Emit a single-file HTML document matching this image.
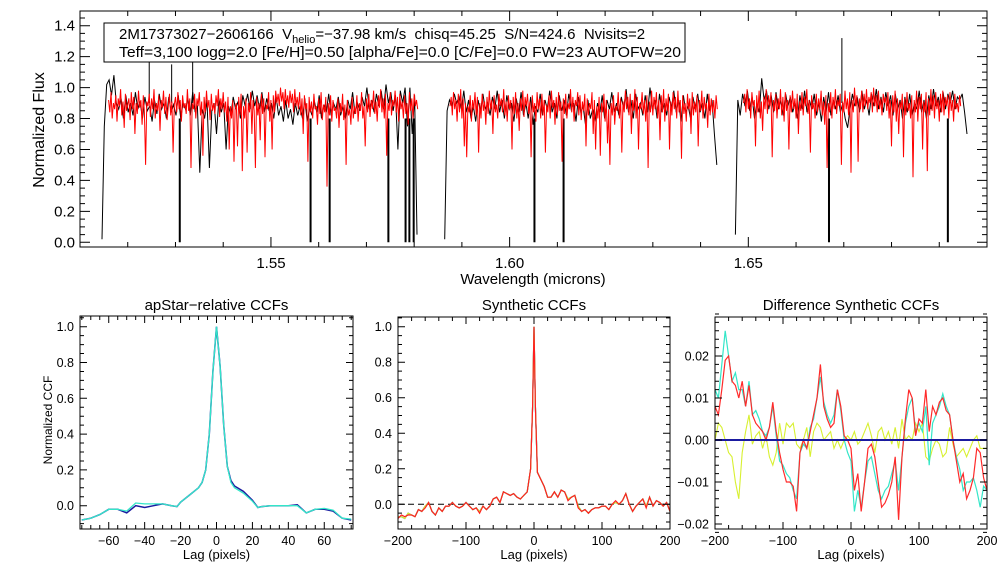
<!DOCTYPE html>
<html><head><meta charset="utf-8"><style>
html,body{margin:0;padding:0;background:#fff;}
svg{display:block;font-family:"Liberation Sans",Arial,sans-serif;}
</style></head><body>
<svg id="chart" width="1008" height="576" viewBox="0 0 1008 576" xmlns="http://www.w3.org/2000/svg"></svg>
<script>
// ---------- Spectrum data ----------
const redStep = 0.00025;
const redChip1Start = 1.5160;
const redChip1 = [0.92,0.84,0.97,0.80,0.90,0.86,0.95,0.78,0.93,0.88,
0.99,0.82,0.91,0.74,0.96,0.85,0.89,0.93,0.79,0.97,
0.86,0.94,0.70,0.90,0.83,0.98,0.87,0.92,0.76,0.95,
0.84,0.50,0.91,0.88,0.96,0.81,0.93,0.86,0.99,0.80,
0.90,0.85,0.95,0.72,0.92,0.87,0.98,0.83,0.94,0.79,
0.88,0.96,0.82,0.91,0.58,0.89,0.94,0.84,0.97,0.86,
0.92,0.78,0.95,0.87,0.90,0.83,0.99,0.85,0.93,0.48,
0.90,0.86,0.96,0.80,0.93,0.88,0.97,0.82,0.91,0.56,
0.94,0.84,0.98,0.87,0.92,0.79,0.96,0.85,0.90,0.83,
0.95,0.88,0.99,0.81,0.93,0.86,0.97,0.84,0.91,0.78,
0.94,0.60,0.88,0.80,0.92,0.52,0.86,0.90,0.62,0.94,
0.82,0.96,0.46,0.88,0.80,0.93,0.58,0.90,0.84,0.97,
0.70,0.92,0.85,0.48,0.94,0.82,0.90,0.66,0.96,0.83,
0.93,0.55,0.89,0.86,0.97,0.78,0.92,0.60,0.95,0.84,
0.98,0.90,0.96,0.88,1.00,0.91,0.97,0.86,0.99,0.89,
0.95,0.87,0.98,0.90,0.96,0.84,0.99,0.88,0.94,0.86,
0.97,0.82,0.93,0.70,0.95,0.86,0.90,0.52,0.94,0.84,
0.91,0.80,0.96,0.86,0.88,0.76,0.93,0.83,0.97,0.79,
0.89,0.84,0.94,0.36,0.90,0.82,0.95,0.78,0.92,0.85,
0.87,0.80,0.93,0.74,0.90,0.84,0.96,0.79,0.89,0.50,
0.92,0.82,0.86,0.76,0.94,0.80,0.88,0.83,0.95,0.78,
0.90,0.85,0.97,0.80,0.88,0.62,0.93,0.84,0.96,0.81,
0.92,0.86,0.98,0.83,0.91,0.78,0.95,0.87,0.99,0.84,
0.93,0.80,0.96,0.56,0.90,0.85,0.97,0.82,0.92,0.88,
0.98,0.84,0.94,0.78,0.96,0.86,0.91,0.80,0.95,0.83,
0.90,0.76,0.97,0.85,0.93,0.80,0.96,0.88,0.92,0.86];
const redChip2Start = 1.5875;
const redChip2 = [0.88,0.94,0.82,0.97,0.86,0.92,0.78,0.96,0.84,0.99,
0.80,0.93,0.62,0.90,0.55,0.88,0.84,0.95,0.78,0.92,
0.86,0.97,0.82,0.94,0.58,0.90,0.80,0.96,0.85,0.91,
0.76,0.94,0.83,0.98,0.86,0.92,0.70,0.95,0.84,0.89,
0.80,0.96,0.88,0.93,0.84,0.99,0.82,0.91,0.78,0.95,
0.86,0.92,0.60,0.94,0.83,0.97,0.80,0.90,0.72,0.93,
0.85,0.98,0.81,0.94,0.88,0.96,0.83,0.91,0.55,0.95,
0.84,0.90,0.78,0.97,0.86,0.93,0.80,0.96,0.82,0.92,
0.58,0.89,0.84,0.95,0.80,0.98,0.87,0.92,0.76,0.94,
0.82,0.97,0.85,0.91,0.52,0.93,0.83,0.96,0.80,0.90,
0.86,0.99,0.84,0.94,0.78,0.92,0.88,0.97,0.82,0.95,
0.79,0.91,0.85,0.96,0.62,0.93,0.82,0.90,0.86,0.97,
0.70,0.92,0.60,0.88,0.80,0.94,0.56,0.90,0.84,0.96,
0.78,0.92,0.64,0.86,0.50,0.90,0.82,0.95,0.76,0.88,
0.85,0.97,0.80,0.93,0.58,0.91,0.84,0.98,0.86,0.94,
0.82,0.96,0.70,0.92,0.85,0.99,0.80,0.94,0.60,0.90,
0.86,0.97,0.83,0.92,0.78,0.95,0.48,0.91,0.84,0.98,
0.82,0.94,0.86,0.97,0.80,0.92,0.66,0.95,0.84,0.99,
0.78,0.93,0.85,0.96,0.60,0.91,0.82,0.97,0.86,0.94,
0.80,0.98,0.84,0.92,0.54,0.95,0.83,0.90,0.78,0.96,
0.86,0.93,0.70,0.97,0.82,0.91,0.84,0.95,0.62,0.92,
0.85,0.98,0.80,0.94,0.86,0.90,0.74,0.96,0.82,0.93,
0.84,0.92,0.80,0.95,0.86];
const redChip3Start = 1.6490;
const redChip3 = [0.90,0.96,0.84,0.99,0.86,0.93,0.80,0.97,0.88,0.92,
0.62,0.95,0.84,0.98,0.80,0.91,0.72,0.94,0.86,0.99,
0.83,0.95,0.88,0.97,0.55,0.92,0.85,0.96,0.80,0.93,
0.86,0.99,0.82,0.94,0.78,0.97,0.85,0.92,0.60,0.95,
0.84,0.98,0.86,0.93,0.80,0.96,0.70,0.91,0.85,0.97,
0.82,0.94,0.88,0.99,0.83,0.92,0.58,0.95,0.86,0.90,
0.80,0.96,0.84,0.93,0.86,0.98,0.82,0.91,0.76,0.95,
0.48,0.90,0.84,0.97,0.80,0.94,0.86,0.99,0.83,0.92,
0.88,0.96,0.50,0.91,0.84,0.98,0.86,0.93,0.82,0.97,
0.45,0.92,0.84,1.00,0.88,0.95,0.52,0.93,0.86,0.98,
0.84,0.96,0.88,0.99,0.86,0.94,0.90,0.97,0.84,1.00,
0.88,0.95,0.84,0.98,0.86,0.93,0.82,0.96,0.90,0.94,
0.85,0.97,0.80,0.92,0.62,0.95,0.84,0.98,0.78,0.93,
0.70,0.91,0.86,0.96,0.55,0.93,0.82,0.97,0.85,0.90,
0.80,0.95,0.42,0.92,0.84,0.98,0.78,0.94,0.86,0.96,
0.60,0.91,0.84,0.97,0.46,0.93,0.82,0.99,0.85,0.95,
0.80,0.97,0.86,0.92,0.78,0.96,0.84,0.98,0.82,0.94,
0.88,0.95,0.80,0.97,0.85,0.92,0.78,0.96,0.86,0.90,
0.84,0.95,0.88];
const blackStep = 0.0005;
const blackChip1Start = 1.5146;
const blackChip1 = [0.02,0.75,1.02,1.05,0.95,1.08,0.90,0.86,0.93,0.80,
0.95,0.84,0.90,0.82,0.97,0.86,0.91,0.80,0.94,0.85,
0.88,0.78,0.92,0.83,0.96,0.86,0.90,0.80,0.94,0.84,
0.89,0.82,0.95,0.80,0.90,0.86,0.93,0.82,0.97,0.85,
0.88,0.45,0.86,0.80,0.92,0.48,0.85,0.90,0.70,0.93,
0.84,0.90,0.60,0.88,0.82,0.94,0.86,0.91,0.80,0.95,
0.88,0.96,0.86,0.98,0.88,0.95,0.86,0.97,0.84,0.93,
0.85,0.90,0.80,0.94,0.82,0.88,0.78,0.92,0.80,0.86,
0.76,0.90,0.82,0.88,0.80,0.93,0.78,0.87,0.82,0.91,
0.84,0.95,0.80,0.89,0.84,0.96,0.82,0.90,0.86,0.94,
0.82,0.88,0.80,0.92,0.86,0.97,0.83,0.90,0.85,0.94,
0.88,1.00,0.86,0.92,0.84,0.96,0.88,0.98,0.86,1.02,
0.90,0.97,0.85,0.95,0.60,0.98,0.90,1.00,0.75,1.00,
0.70,0.95,0.05];
const blackChip2Start = 1.5864;
const blackChip2 = [0.02,0.85,0.92,0.88,0.96,0.90,0.94,0.86,0.98,0.84,
0.92,0.80,0.88,0.78,0.92,0.84,0.96,0.86,0.90,0.82,
0.94,0.86,0.98,0.84,0.92,0.80,0.95,0.86,0.90,0.78,
0.93,0.84,0.97,0.82,0.90,0.80,0.94,0.76,0.88,0.84,
0.96,0.82,0.92,0.86,0.98,0.84,0.90,0.80,0.95,0.85,
0.92,0.82,0.96,0.86,0.90,0.78,0.94,0.84,0.88,0.76,
0.92,0.80,0.86,0.78,0.90,0.84,0.95,0.80,0.92,0.86,
0.97,0.84,0.90,0.82,0.94,0.86,0.99,0.84,0.92,0.80,
0.96,0.86,0.90,0.82,0.95,0.84,1.00,0.86,0.92,0.80,
0.96,0.84,0.90,0.82,0.94,0.86,0.98,0.84,0.92,0.78,
0.95,0.84,0.88,0.80,0.94,0.86,0.96,0.84,0.90,0.80,
0.96,0.85,0.92,0.70,0.50];
const blackChip3Start = 1.6473;
const blackChip3 = [0.05,0.92,0.82,0.96,0.88,0.98,0.85,0.94,0.80,0.90,
0.84,1.06,0.92,0.98,0.86,0.95,0.84,0.97,0.86,0.92,
0.82,0.96,0.88,0.94,0.84,0.90,0.80,0.95,0.86,0.98,
0.84,0.92,0.86,0.96,0.82,0.90,0.78,0.94,0.84,0.97,
0.82,0.92,0.86,0.95,0.84,0.90,0.80,0.74,0.86,0.96,
0.88,0.94,0.84,0.98,0.86,0.92,0.82,0.96,0.88,0.99,
0.86,0.94,0.84,0.97,0.88,0.95,0.82,0.96,0.86,0.92,
0.80,0.94,0.84,0.96,0.82,0.90,0.86,0.98,0.84,0.92,
0.80,0.95,0.86,0.99,0.88,0.94,0.84,0.97,0.86,0.96,
0.90,0.98,0.86,0.94,0.92,0.96,0.84,0.70];
const deepLineWaves = [1.5309,1.5583,1.5623,1.5746,1.5782,1.5790,1.5799,1.6052,1.6113,1.6669,1.6918];
const spikeWaves = [1.5245,1.5292,1.5336,1.6696];
const spikeFlux = [1.25,1.15,1.25,1.32];
const specXTicks = [1.55,1.60,1.65];
const specYTicks = [0.0,0.2,0.4,0.6,0.8,1.0,1.2,1.4];

// ---------- CCF data ----------
const lag1 = [-75,-70,-65,-60,-55,-50,-45,-40,-35,-30,-25,-22,-20,-15,-10,-8,-6,-4,-2,0,2,4,6,8,10,15,20,23,25,30,35,40,45,50,55,60,65,70,75];
const ccfBlue1 = [-0.08,-0.07,-0.05,-0.02,-0.02,-0.04,0.0,-0.01,0.0,0.01,0.0,-0.005,0.02,0.06,0.10,0.13,0.20,0.40,0.75,1.0,0.78,0.45,0.22,0.14,0.11,0.08,0.03,-0.01,-0.005,0.0,0.0,0.0,0.005,-0.04,-0.02,-0.02,-0.03,-0.07,-0.08];
const ccfCyan1 = [-0.08,-0.07,-0.05,-0.02,-0.02,-0.03,0.015,0.01,0.01,0.01,0.0,-0.005,0.02,0.06,0.10,0.13,0.20,0.40,0.75,1.0,0.78,0.45,0.22,0.13,0.10,0.07,0.025,-0.01,-0.005,0.0,0.0,0.0,0.0,-0.04,-0.02,-0.015,-0.025,-0.07,-0.075];
const p1XTicks = [-60,-40,-20,0,20,40,60];
const p1YTicks = [0.0,0.2,0.4,0.6,0.8,1.0];

const lag2 = [-200,-195,-190,-185,-180,-175,-170,-165,-160,-155,-150,-145,-140,-135,-130,-125,-120,-115,-110,-105,-100,-95,-90,-85,-80,-75,-70,-65,-60,-55,-50,-45,-40,-35,-30,-25,-20,-15,-10,-5,-2,0,2,5,10,15,20,25,30,35,40,45,50,55,60,65,70,75,80,85,90,95,100,105,110,115,120,125,130,135,140,145,150,155,160,165,170,175,180,185,190,195,200];
const ccfSynth = [-0.07,-0.07,-0.08,-0.05,-0.06,-0.07,-0.03,-0.04,-0.01,0.01,-0.04,-0.06,-0.02,-0.04,-0.01,-0.01,0.01,-0.01,-0.02,-0.01,0.01,-0.01,-0.03,-0.02,-0.04,-0.01,-0.03,-0.01,0.03,0.04,0.01,0.07,0.06,0.05,0.06,0.04,0.03,0.05,0.07,0.20,0.55,1.0,0.55,0.18,0.14,0.10,0.04,0.04,0.07,0.04,0.08,0.07,0.03,0.04,0.05,-0.01,-0.04,-0.03,-0.05,-0.03,-0.02,-0.02,-0.01,-0.01,-0.03,0.0,0.01,0.0,0.02,0.06,0.0,-0.04,-0.01,0.01,0.03,-0.01,0.04,-0.01,0.02,0.01,-0.01,0.01,-0.04];
const ccfSynthRed = [-0.08,-0.06,-0.07,-0.06,-0.06,-0.07,-0.03,-0.04,-0.02,0.01,-0.04,-0.06,-0.02,-0.04,-0.01,-0.01,0.01,-0.01,-0.02,-0.01,0.01,-0.01,-0.03,-0.02,-0.05,-0.01,-0.03,-0.01,0.03,0.04,0.01,0.07,0.06,0.05,0.06,0.04,0.03,0.05,0.07,0.20,0.55,1.0,0.55,0.18,0.14,0.10,0.04,0.04,0.07,0.04,0.08,0.07,0.02,0.04,0.05,-0.02,-0.04,-0.03,-0.05,-0.03,-0.02,-0.02,-0.01,-0.01,-0.03,0.0,0.02,0.0,0.02,0.06,0.0,-0.04,-0.01,0.01,0.03,-0.02,0.04,-0.01,0.02,0.01,-0.01,0.01,-0.04];
const p2XTicks = [-200,-100,0,100,200];
const p2YTicks = [0.0,0.2,0.4,0.6,0.8,1.0];

const lag3 = [-200,-195,-190,-185,-180,-175,-170,-165,-160,-155,-150,-145,-140,-135,-130,-125,-120,-115,-110,-105,-100,-95,-90,-85,-80,-75,-70,-65,-60,-55,-50,-45,-40,-35,-30,-25,-20,-15,-10,-5,0,5,10,15,20,25,30,35,40,45,50,55,60,65,70,75,80,85,90,95,100,105,110,115,120,125,130,135,140,145,150,155,160,165,170,175,180,185,190,195,200];
const diffRed = [0.008,0.006,0.012,0.019,0.020,0.014,0.013,0.010,0.014,0.008,0.013,0.006,0.004,0.003,0.002,0.0,0.003,0.009,0.002,-0.003,-0.007,-0.010,-0.010,-0.011,-0.017,-0.003,0.0,-0.002,0.002,0.006,0.010,0.018,0.008,0.005,0.003,0.004,0.012,0.008,0.001,0.0,-0.002,-0.012,-0.008,-0.017,-0.010,-0.002,-0.001,-0.004,-0.010,-0.016,-0.015,-0.013,-0.010,-0.004,-0.019,-0.004,0.005,0.012,0.010,0.001,0.005,0.004,0.012,0.002,0.008,0.006,0.009,0.010,0.007,0.006,0.0,-0.005,-0.010,-0.008,-0.014,-0.012,-0.009,-0.002,-0.003,-0.009,-0.012];
const diffCyan = [0.012,0.010,0.018,0.026,0.020,0.014,0.016,0.012,0.012,0.008,0.014,0.006,0.007,0.005,0.002,0.001,0.003,0.008,0.001,-0.005,-0.006,-0.008,-0.009,-0.012,-0.014,-0.003,-0.001,-0.002,0.003,0.005,0.010,0.015,0.009,0.006,0.004,0.006,0.012,0.007,0.0,-0.003,-0.005,-0.017,-0.012,-0.016,-0.010,-0.005,-0.004,-0.008,-0.012,-0.014,-0.012,-0.011,-0.008,-0.005,-0.012,-0.004,0.004,0.008,0.010,0.002,0.004,0.002,0.008,-0.006,0.004,0.006,0.008,0.011,0.008,0.006,0.0,-0.004,-0.007,-0.012,-0.010,-0.010,-0.009,-0.012,-0.016,-0.011,-0.012];
const diffYellow = [0.0,0.004,0.003,0.0,-0.003,-0.004,-0.010,-0.014,-0.003,0.002,0.006,-0.001,0.001,0.002,-0.002,0.001,-0.004,-0.006,-0.003,0.004,-0.001,0.004,0.003,0.004,-0.001,-0.002,0.0,0.003,-0.004,0.002,0.004,0.003,0.0,0.001,0.002,-0.002,0.0,-0.002,0.0,0.001,0.0,0.002,-0.001,0.0,0.002,0.004,0.001,-0.003,0.002,0.003,0.0,0.002,-0.001,0.003,-0.002,0.005,0.0,0.001,0.0,0.004,0.002,0.004,-0.004,-0.005,-0.002,0.0,-0.001,-0.004,-0.003,0.003,-0.001,-0.004,-0.003,-0.002,-0.004,-0.002,0.0,0.001,-0.002,-0.002,-0.002];
const p3XTicks = [-200,-100,0,100,200];
const p3YTicks = [-0.02,-0.01,0.00,0.01,0.02];
const p3YLabels = ["\u22120.02","\u22120.01","0.00","0.01","0.02"];

// ---------- helpers ----------
const NS = "http://www.w3.org/2000/svg";
const svg = document.getElementById('chart');
function el(tag, attrs, parent) {
  const e = document.createElementNS(NS, tag);
  for (const k in attrs) e.setAttribute(k, attrs[k]);
  (parent || svg).appendChild(e);
  return e;
}
function lin(d0, d1, r0, r1) { return v => r0 + (v - d0) * (r1 - r0) / (d1 - d0); }
function fmtNeg(s) { return s.replace('-', '\u2212'); }
function polyPath(xs, ys, sx, sy) {
  let d = '';
  for (let i = 0; i < xs.length; i++) d += (i ? 'L' : 'M') + sx(xs[i]).toFixed(1) + ' ' + sy(ys[i]).toFixed(1);
  return d;
}
function ticks(g, p, sx, sy, xMaj, xMin, yMaj, yMin, majLen, minLen) {
  let d = '';
  xMin.forEach(v => { const x = sx(v); d += `M${x} ${p.b}v${-minLen}M${x} ${p.t}v${minLen}`; });
  xMaj.forEach(v => { const x = sx(v); d += `M${x} ${p.b}v${-majLen}M${x} ${p.t}v${majLen}`; });
  yMin.forEach(v => { const y = sy(v); d += `M${p.l} ${y}h${minLen}M${p.r} ${y}h${-minLen}`; });
  yMaj.forEach(v => { const y = sy(v); d += `M${p.l} ${y}h${majLen}M${p.r} ${y}h${-majLen}`; });
  const t = el('path', {d: d, stroke: '#000', 'stroke-width': 1, fill: 'none'}, g);
  
  
}
function range(a, b, s) { const o = []; for (let v = a; v <= b + 1e-9; v += s) o.push(+v.toFixed(6)); return o; }

// ---------- top spectrum panel ----------
(function () {
  const p = {l: 80, r: 987, t: 11, b: 247};
  const sx = lin(1.51, 1.70, p.l, p.r);
  const sy = lin(0, 1.4, 242.3, 25.7);
  const g = el('g', {});
  
  
  const clip = el('clipPath', {id: 'clipTop'}, g);
  el('rect', {x: p.l, y: p.t, width: p.r - p.l, height: p.b - p.t}, clip);
  const data = el('g', {'clip-path': 'url(#clipTop)'}, g);
  function chip(start, step, arr, color, w, name) {
    const xs = arr.map((v, i) => start + i * step);
    const path = el('path', {d: polyPath(xs, arr, sx, sy), stroke: color, 'stroke-width': w, fill: 'none', 'stroke-linejoin': 'miter'}, data);
    
    
  }
  chip(blackChip1Start, blackStep, blackChip1, '#000', 1, 'observed-spectrum-chip1');
  chip(blackChip2Start, blackStep, blackChip2, '#000', 1, 'observed-spectrum-chip2');
  chip(blackChip3Start, blackStep, blackChip3, '#000', 1, 'observed-spectrum-chip3');
  deepLineWaves.forEach(w => {
    const ln = el('line', {x1: sx(w), x2: sx(w), y1: sy(0.8), y2: sy(0), stroke: '#000', 'stroke-width': 2}, data);
    
    
  });
  spikeWaves.forEach((w, i) => {
    const ln = el('line', {x1: sx(w), x2: sx(w), y1: sy(0.9), y2: sy(spikeFlux[i]), stroke: '#000', 'stroke-width': 1}, data);
    
    
  });
  chip(redChip1Start, redStep, redChip1, '#ff0000', 1, 'model-spectrum-chip1');
  chip(redChip2Start, redStep, redChip2, '#ff0000', 1, 'model-spectrum-chip2');
  chip(redChip3Start, redStep, redChip3, '#ff0000', 1, 'model-spectrum-chip3');

  const frame = el('rect', {x: p.l, y: p.t, width: p.r - p.l, height: p.b - p.t, fill: 'none', stroke: '#000', 'stroke-width': 1}, g);
  
  
  ticks(g, p, sx, sy, specXTicks, range(1.51, 1.70, 0.01), specYTicks, range(0, 1.45, 0.05), 10, 5);
  specXTicks.forEach(v => {
    const t = el('text', {x: sx(v), y: 268, 'text-anchor': 'middle', 'font-size': 15}, g);
    t.textContent = v.toFixed(2);
    
    
  });
  specYTicks.forEach(v => {
    const t = el('text', {x: 75, y: sy(v) + 5, 'text-anchor': 'end', 'font-size': 15}, g);
    t.textContent = v.toFixed(1);
    
    
  });
  const xt = el('text', {x: 533, y: 284, 'text-anchor': 'middle', 'font-size': 15}, g);
  xt.textContent = 'Wavelength (microns)';
  
  
  const yt = el('text', {x: 0, y: 0, 'text-anchor': 'middle', 'font-size': 16, transform: 'translate(44,130) rotate(-90)'}, g);
  yt.textContent = 'Normalized Flux';
  
  

  const box = el('rect', {x: 104, y: 23, width: 581, height: 39, fill: '#fff', stroke: '#000', 'stroke-width': 1}, g);
  
  
  const l1 = el('text', {x: 119, y: 39, 'font-size': 15}, g);
  
  
  l1.innerHTML = '2M17373027\u22122606166  V<tspan font-size="11" dy="4">helio</tspan><tspan dy="-4">=\u221237.98 km/s  chisq=45.25  S/N=424.6  Nvisits=2</tspan>';
  l1.setAttribute('xml:space', 'preserve');
  l1.style.whiteSpace = 'pre';
  const l2 = el('text', {x: 119, y: 57, 'font-size': 15, textLength: 562, lengthAdjust: 'spacingAndGlyphs'}, g);
  l2.textContent = 'Teff=3,100 logg=2.0 [Fe/H]=0.50 [alpha/Fe]=0.0 [C/Fe]=0.0 FW=23 AUTOFW=20';
  
  
})();

// ---------- CCF panels ----------
function ccfPanel(cfg) {
  const p = cfg.p;
  const sx = lin(cfg.x0, cfg.x1, p.l, p.r);
  const sy = lin(cfg.yA, cfg.yB, cfg.pyA, cfg.pyB);
  const g = el('g', {});
  
  
  const cid = 'clip-' + cfg.name;
  const clip = el('clipPath', {id: cid}, g);
  el('rect', {x: p.l, y: p.t, width: p.r - p.l, height: p.b - p.t}, clip);
  const data = el('g', {'clip-path': `url(#${cid})`}, g);
  if (cfg.zeroDash) {
    const z = el('line', {x1: p.l, x2: p.r, y1: sy(0), y2: sy(0), stroke: '#000', 'stroke-width': 1, 'stroke-dasharray': '6,4'}, data);
    
    
  }
  cfg.series.forEach(s => {
    const path = el('path', {d: polyPath(s.x, s.y, sx, sy), stroke: s.color, 'stroke-width': s.w || 1.2, fill: 'none'}, data);
    
    
  });
  const frame = el('rect', {x: p.l, y: p.t, width: p.r - p.l, height: p.b - p.t, fill: 'none', stroke: '#000', 'stroke-width': 1}, g);
  
  
  ticks(g, p, sx, sy, cfg.xTicks, cfg.xMinor, cfg.yTicks, cfg.yMinor, 7, 4);
  cfg.xTicks.forEach(v => {
    const t = el('text', {x: sx(v), y: 545, 'text-anchor': 'middle', 'font-size': 12.5}, g);
    t.textContent = fmtNeg(String(v));
    
    
  });
  cfg.yTicks.forEach((v, i) => {
    const t = el('text', {x: p.l - 6, y: sy(v) + 4.5, 'text-anchor': 'end', 'font-size': 12.5}, g);
    t.textContent = cfg.yLabels ? cfg.yLabels[i] : v.toFixed(1);
    
    
  });
  const xt = el('text', {x: (p.l + p.r) / 2, y: 559, 'text-anchor': 'middle', 'font-size': 13}, g);
  xt.textContent = 'Lag (pixels)';
  
  
  const tt = el('text', {x: (p.l + p.r) / 2, y: 310, 'text-anchor': 'middle', 'font-size': 15}, g);
  tt.textContent = cfg.title;
  
  
  if (cfg.ytitle) {
    const yt = el('text', {x: 0, y: 0, 'text-anchor': 'middle', 'font-size': 12, transform: 'translate(52,420) rotate(-90)'}, g);
    yt.textContent = cfg.ytitle;
    
    
  }
}

ccfPanel({name: 'apstar-relative-ccf-panel', title: 'apStar\u2212relative CCFs', ytitle: 'Normalized CCF',
  p: {l: 80, r: 353, t: 316, b: 529}, x0: -76, x1: 76, yA: 0, yB: 1, pyA: 505.7, pyB: 326.7,
  xTicks: p1XTicks, xMinor: range(-75, 75, 5), yTicks: p1YTicks, yMinor: range(-0.1, 1.05, 0.05),
  series: [
    {x: lag1, y: ccfBlue1, color: '#1a1aa0', name: 'ccf-visit-1', w: 1.5},
    {x: lag1, y: ccfCyan1, color: '#33e6c8', name: 'ccf-visit-2', w: 1.3}
  ]});

ccfPanel({name: 'synthetic-ccf-panel', title: 'Synthetic CCFs', zeroDash: true,
  p: {l: 398, r: 670, t: 317, b: 529}, x0: -200, x1: 200, yA: 0, yB: 1, pyA: 504.3, pyB: 326.7,
  xTicks: p2XTicks, xMinor: range(-200, 200, 20), yTicks: p2YTicks, yMinor: range(-0.1, 1.05, 0.05),
  series: [
    {x: lag2, y: ccfSynth, color: '#1a1aa0', name: 'synthetic-ccf-blue'},
    {x: lag2, y: ccfSynth, color: '#33e6c8', name: 'synthetic-ccf-cyan'},
    {x: lag2, y: ccfSynth, color: '#d8e830', name: 'synthetic-ccf-yellow'},
    {x: lag2, y: ccfSynthRed, color: '#ff2020', name: 'synthetic-ccf-red'}
  ]});

ccfPanel({name: 'difference-ccf-panel', title: 'Difference Synthetic CCFs',
  p: {l: 715, r: 987, t: 317, b: 529}, x0: -200, x1: 200, yA: 0, yB: 0.02, pyA: 440, pyB: 356,
  xTicks: p3XTicks, xMinor: range(-200, 200, 20), yTicks: p3YTicks, yLabels: p3YLabels, yMinor: range(-0.022, 0.03, 0.002),
  series: [
    {x: lag3, y: diffYellow, color: '#d8f030', name: 'difference-yellow', w: 1.1},
    {x: lag3, y: diffCyan, color: '#33e6c8', name: 'difference-cyan', w: 1.2},
    {x: lag3, y: diffRed, color: '#ff2a2a', name: 'difference-red', w: 1.2},
    {x: [lag3[0], lag3[lag3.length - 1]], y: [0, 0], color: '#1a1aa0', name: 'difference-baseline', w: 2}
  ]});
</script>
</body></html>
